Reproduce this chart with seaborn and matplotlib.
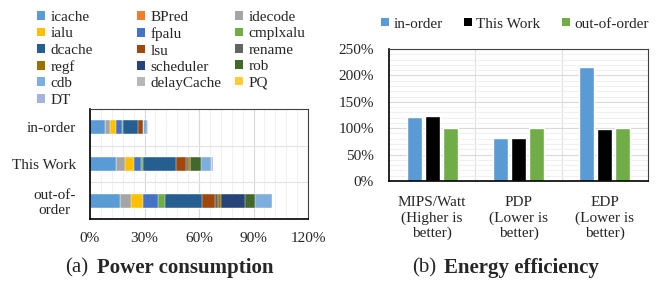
import numpy as np
import pandas as pd
import matplotlib
matplotlib.use("Agg")
import matplotlib.pyplot as plt
from matplotlib.patches import Patch
from matplotlib.ticker import FuncFormatter
import seaborn as sns

# ========== DATOS ==========
componentes = ["icache", "BPred", "idecode", "ialu", "fpalu", "cmplxalu", "dcache", "lsu",
               "rename", "regf", "scheduler", "rob", "cdb", "delayCache", "PQ", "DT"]
colores = ["#5B9BD5", "#ED7D31", "#A5A5A5", "#FFC000", "#4472C4", "#70AD47", "#255E91", "#9E480E",
           "#636363", "#997300", "#264478", "#43682B", "#7CAFDD", "#B7B7B7", "#FFCD33", "#A3B5DE"]
configs = ["in-order", "This Work", "out-of-order"]
etiquetas_y = ["in-order", "This Work", "out-of-\norder"]
potencia_inorder = [8.3, 0, 2.9, 2.9, 3.5, 0.7, 7.9, 3.2, 0, 0, 0, 0, 2.0, 0, 0, 0.5]
potencia_thiswork = [14.3, 0, 5.1, 4.8, 3.9, 1.3, 17.8, 5.6, 1.2, 0.8, 0.4, 5.9, 5.5, 0, 0, 0.9]
potencia_ooo = [16.7, 0, 5.9, 6.6, 8.3, 3.6, 20.7, 7.0, 1.5, 1.6, 13.4, 5.5, 9.4, 0, 0, 0]

metricas = ["MIPS/Watt\n(Higher is\nbetter)", "PDP\n(Lower is\nbetter)", "EDP\n(Lower is\nbetter)"]
eficiencia_inorder = [121, 82, 216]
eficiencia_thiswork = [123, 81, 98]
eficiencia_ooo = [100, 100, 100]
colores_cfg = ["#5B9BD5", "#000000", "#70AD47"]

# ========== ESTILO ==========
sns.set_theme(style="white")
plt.rcParams["font.family"] = ["Liberation Serif", "DejaVu Serif"]
plt.rcParams["font.size"] = 11
pct = FuncFormatter(lambda v, p: f"{v:.0f}%")

fig = plt.figure(figsize=(6.56, 2.81), dpi=100)
W, H = 656, 281
ax1 = fig.add_axes([90 / W, 1 - 219 / H, 218 / W, 110 / H])
ax2 = fig.add_axes([389 / W, 1 - 181 / H, 259 / W, 132 / H])

# ========== (a) CONSUMO DE POTENCIA ==========
df_pot = pd.DataFrame([potencia_inorder, potencia_thiswork, potencia_ooo],
                      index=configs, columns=componentes)
acumulado = df_pot.cumsum(axis=1)
for i in reversed(range(len(componentes))):
    sns.barplot(x=acumulado[componentes[i]].values, y=configs, orient="h",
                color=colores[i], saturation=1, width=0.38,
                edgecolor="white", linewidth=0.3, ax=ax1)

ax1.set_xlim(0, 120)
ax1.set_xticks(np.arange(0, 121, 30))
ax1.set_xticks(np.arange(0, 121, 6), minor=True)
ax1.xaxis.set_major_formatter(pct)
ax1.set_yticks(range(3))
ax1.set_yticklabels(etiquetas_y)
for t in ax1.get_yticklabels():
    t.set_multialignment("center")
ax1.set_yticks([0.5, 1.5], minor=True)
ax1.set_ylim(2.5, -0.5)
ax1.grid(which="minor", axis="x", color="#F0F0F0", linewidth=0.8)
ax1.grid(which="major", axis="x", color="#D9D9D9", linewidth=0.8)
ax1.grid(which="minor", axis="y", color="#E3E3E3", linewidth=0.8)
ax1.set_axisbelow(True)
ax1.tick_params(which="both", length=0, labelsize=11)
ax1.tick_params(axis="x", pad=9)
ax1.tick_params(axis="y", pad=10)
ax1.set_xlabel("")
ax1.set_ylabel("")

# leyenda en 3 columnas como en Excel
x_col = [37, 137, 235]
for c in range(3):
    handles = [Patch(facecolor=colores[k], edgecolor="none", label=componentes[k])
               for k in range(c, len(componentes), 3)]
    fig.legend(handles=handles, loc="upper left", bbox_to_anchor=(x_col[c] / W, 1 - 11 / H),
               frameon=False, borderpad=0, borderaxespad=0, labelspacing=0.22,
               handlelength=0.5, handleheight=0.5, handletextpad=0.4, fontsize=11)

# ========== (b) EFICIENCIA ENERGETICA ==========
df_ef = pd.DataFrame({
    "metrica": metricas * 3,
    "config": [configs[0]] * 3 + [configs[1]] * 3 + [configs[2]] * 3,
    "valor": eficiencia_inorder + eficiencia_thiswork + eficiencia_ooo,
})
sns.barplot(data=df_ef, x="metrica", y="valor", hue="config", palette=colores_cfg,
            saturation=1, width=0.62, gap=0.16, ax=ax2)
ax2.get_legend().remove()
ax2.set_ylim(0, 250)
ax2.set_xlim(-0.5, 2.5)
ax2.set_yticks(np.arange(0, 251, 50))
ax2.set_yticks(np.arange(0, 251, 10), minor=True)
ax2.yaxis.set_major_formatter(pct)
ax2.set_xticks([0.5, 1.5], minor=True)
ax2.grid(which="minor", axis="y", color="#F0F0F0", linewidth=0.8)
ax2.grid(which="major", axis="y", color="#D9D9D9", linewidth=0.8)
ax2.grid(which="minor", axis="x", color="#E0E0E0", linewidth=0.8)
ax2.set_axisbelow(True)
ax2.tick_params(which="both", length=0, labelsize=11)
ax2.tick_params(axis="x", pad=11)
ax2.tick_params(axis="y", pad=11)
ax2.set_xlabel("")
ax2.set_ylabel("")

handles2 = [Patch(facecolor=colores_cfg[k], edgecolor="none", label=configs[k]) for k in range(3)]
fig.legend(handles=handles2, loc="center", bbox_to_anchor=(515 / W, 1 - 24 / H), ncol=3,
           frameon=False, borderpad=0, handlelength=0.5, handleheight=0.5,
           handletextpad=0.3, columnspacing=1.4, fontsize=11)

for ax in (ax1, ax2):
    for lado in ["left", "bottom", "top", "right"]:
        ax.spines[lado].set_visible(True)
        ax.spines[lado].set_color("#404040")
        ax.spines[lado].set_linewidth(0.8)
    ax.spines["left"].set_color("#000000")
    ax.spines["left"].set_linewidth(1.2)
    ax.spines["bottom"].set_color("#000000")
    ax.spines["bottom"].set_linewidth(1.2)

# ========== TITULOS ==========
fig.text(65 / W, 1 - 268 / H, "(a)", fontsize=15, va="center")
fig.text(97 / W, 1 - 268 / H, "Power consumption", fontsize=15, fontweight="bold", va="center")
fig.text(412 / W, 1 - 268 / H, "(b)", fontsize=15, va="center")
fig.text(444 / W, 1 - 268 / H, "Energy efficiency", fontsize=15, fontweight="bold", va="center")

fig.savefig("out.png", dpi=100)
plt.close(fig)
